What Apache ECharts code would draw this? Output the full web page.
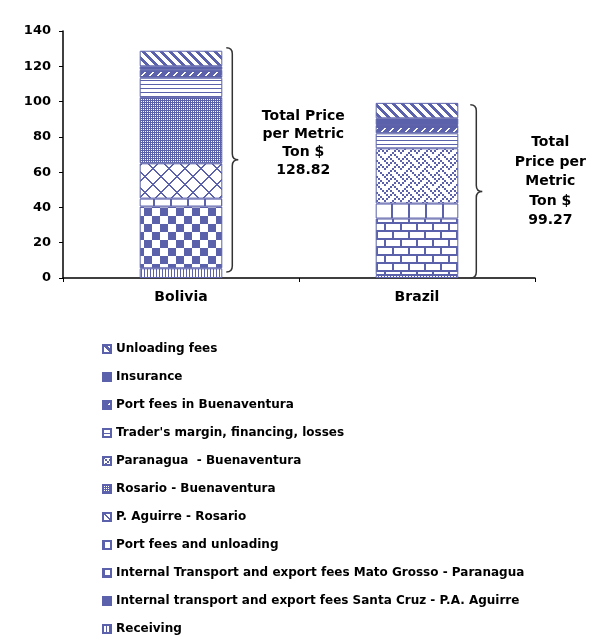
<!DOCTYPE html>
<html>
<head>
<meta charset="utf-8">
<script src="https://cdn.jsdelivr.net/npm/echarts@6/dist/echarts.min.js"></script>
<style>
  html, body { margin: 0; padding: 0; background: #fff; }
  #chart { width: 598px; height: 641px; }
</style>
</head>
<body>
<div id="chart"></div>
<script>
// Cost components per metric ton (US$), stacked bottom to top
const categories = ['Bolivia', 'Brazil'];
const receiving = [5.5, 1.7];
const santaCruzAguirre = [35, 0];
const matoGrossoParanagua = [0, 32];
const portFeesUnloading = [4.5, 8.5];
const aguirreRosario = [20, 0];
const rosarioBuenaventura = [37.5, 0];
const paranaguaBuenaventura = [0, 31.3];
const tradersMargin = [11, 8.5];
const portFeesBuenaventura = [4.5, 4.7];
const insurance = [2, 3.8];
const unloadingFees = [8.82, 8.77];

const yTicks = { min: 0, max: 140, interval: 20 };
const totalLabelLines = [
  ['Total Price', 'per Metric', 'Ton $'],
  ['Total', 'Price per', 'Metric', 'Ton $']
];

const INK = '#5b61aa';
const FONT = '"DejaVu Sans", sans-serif';

// Small bitmap tiles used as repeating fills
function tile(w, h, fn, bg, fg) {
  const cv = document.createElement('canvas');
  cv.width = w; cv.height = h;
  const g = cv.getContext('2d');
  g.fillStyle = bg || '#ffffff';
  g.fillRect(0, 0, w, h);
  g.fillStyle = fg || INK;
  for (let y = 0; y < h; y++) {
    for (let x = 0; x < w; x++) {
      if (fn(x, y)) g.fillRect(x, y, 1, 1);
    }
  }
  return { image: cv, repeat: 'repeat' };
}
const weaveRows = [0x88, 0x54, 0x22, 0x45, 0x88, 0x14, 0x22, 0x51];
const fills = {
  receiving: tile(3, 1, (x) => x === 0),
  checker: tile(16, 16, (x, y) => (((x >> 3) + (y >> 3)) % 2) === 0),
  brick: tile(16, 16, (x, y) => (y % 8) >= 6 || (y < 8 ? (x % 16) < 2 : ((x + 8) % 16) < 2)),
  vertical: tile(17, 1, (x) => x < 2),
  diamond: tile(16, 16, (x, y) => ((x + y) % 16) < 2 || ((x - y + 16) % 16) < 2),
  dots: tile(2, 2, (x, y) => !(x === 1 && y === 1)),
  weave: tile(16, 16, (x, y) => (weaveRows[y >> 1] >> (7 - (x >> 1))) & 1),
  horizontal: tile(1, 4, (x, y) => y === 0),
  dashedUp: tile(8, 8, (x, y) => ((x + y) % 8) < 2 && (y % 8) < 4, INK, '#ffffff'),
  solid: INK,
  wideDown: tile(9, 9, (x, y) => ((x - y + 9) % 9) < 4)
};

const stackOrder = [
  ['Receiving', receiving, fills.receiving],
  ['Internal transport and export fees Santa Cruz - P.A. Aguirre', santaCruzAguirre, fills.checker],
  ['Internal Transport and export fees Mato Grosso - Paranagua', matoGrossoParanagua, fills.brick],
  ['Port fees and unloading', portFeesUnloading, fills.vertical],
  ['P. Aguirre - Rosario', aguirreRosario, fills.diamond],
  ['Rosario - Buenaventura', rosarioBuenaventura, fills.dots],
  ['Paranagua  - Buenaventura', paranaguaBuenaventura, fills.weave],
  ["Trader's margin, financing, losses", tradersMargin, fills.horizontal],
  ['Port fees in Buenaventura', portFeesBuenaventura, fills.dashedUp],
  ['Insurance', insurance, fills.solid],
  ['Unloading fees', unloadingFees, fills.wideDown]
];

const totals = categories.map((_, i) => stackOrder.reduce((s, row) => s + row[1][i], 0));

const BAR_RATIO = 0.35;
const braceGap = [4, 12];
const braceWidth = 12;
const braceInset = [[-3, 6], [2, 0]];
const textOffset = [[77, -17], [80, -10]];
const textLineHeight = [18, 19.5];

const barSeries = stackOrder.map(([name, values, fill]) => ({
  name: name,
  type: 'bar',
  stack: 'total',
  barWidth: (BAR_RATIO * 100) + '%',
  data: values.map(v => (v === 0 ? '-' : v)),
  itemStyle: { color: fill, borderColor: INK, borderWidth: 1 },
  emphasis: { disabled: true }
}));

const braceSeries = {
  type: 'custom',
  name: 'total',
  silent: true,
  z: 10,
  data: categories.map((_, i) => [i, totals[i]]),
  renderItem: function (params, api) {
    const i = params.dataIndex;
    const top = api.coord([api.value(0), api.value(1)]);
    const base = api.coord([api.value(0), 0]);
    const band = api.size([1, 0])[0];
    const right = top[0] + band * BAR_RATIO / 2;
    const x0 = right + braceGap[i];
    const w = braceWidth;
    const y0 = top[1] + braceInset[i][0];
    const y1 = base[1] - braceInset[i][1];
    const mid = (y0 + y1) / 2;
    const xm = x0 + w / 2;
    const r = w / 2;
    const d = 'M' + x0 + ' ' + y0 +
      ' Q' + xm + ' ' + y0 + ' ' + xm + ' ' + (y0 + r) +
      ' L' + xm + ' ' + (mid - r) +
      ' Q' + xm + ' ' + mid + ' ' + (x0 + w) + ' ' + mid +
      ' Q' + xm + ' ' + mid + ' ' + xm + ' ' + (mid + r) +
      ' L' + xm + ' ' + (y1 - r) +
      ' Q' + xm + ' ' + y1 + ' ' + x0 + ' ' + y1;
    const label = totalLabelLines[i].concat([api.value(1).toFixed(2)]).join('\n');
    return {
      type: 'group',
      children: [
        {
          type: 'path',
          shape: { pathData: d },
          style: { fill: null, stroke: '#333333', lineWidth: 1.5 }
        },
        {
          type: 'text',
          style: {
            text: label,
            x: x0 + textOffset[i][0],
            y: mid + textOffset[i][1],
            align: 'center',
            verticalAlign: 'middle',
            fontFamily: FONT,
            fontWeight: 'bold',
            fontSize: 14,
            lineHeight: textLineHeight[i],
            fill: '#000000'
          }
        }
      ]
    };
  }
};

const chart = echarts.init(document.getElementById('chart'), null, { renderer: 'canvas' });
chart.setOption({
  animation: false,
  backgroundColor: '#ffffff',
  grid: { left: 63, right: 63, top: 31, bottom: 363, containLabel: false },
  legend: {
    orient: 'vertical',
    left: 102,
    top: 342,
    padding: 0,
    itemWidth: 8,
    itemHeight: 8,
    itemGap: 14,
    icon: 'rect',
    selectedMode: false,
    data: stackOrder.map(r => r[0]).reverse(),
    textStyle: { fontFamily: FONT, fontWeight: 'bold', fontSize: 12, color: '#000', lineHeight: 14 }
  },
  xAxis: {
    type: 'category',
    data: categories,
    axisLine: { lineStyle: { color: '#000', width: 1.5 } },
    axisTick: { show: true, length: 4, alignWithLabel: false, lineStyle: { color: '#000' } },
    axisLabel: { fontFamily: FONT, fontWeight: 'bold', fontSize: 14, color: '#000', margin: 12 },
    splitLine: { show: false }
  },
  yAxis: {
    type: 'value',
    min: yTicks.min,
    max: yTicks.max,
    interval: yTicks.interval,
    axisLine: { show: true, lineStyle: { color: '#000', width: 1.5 } },
    axisTick: { show: true, length: 4, lineStyle: { color: '#000' } },
    axisLabel: { fontFamily: FONT, fontWeight: 'bold', fontSize: 13, color: '#000', margin: 12 },
    splitLine: { show: false }
  },
  series: barSeries.concat([braceSeries])
});
</script>
</body>
</html>
